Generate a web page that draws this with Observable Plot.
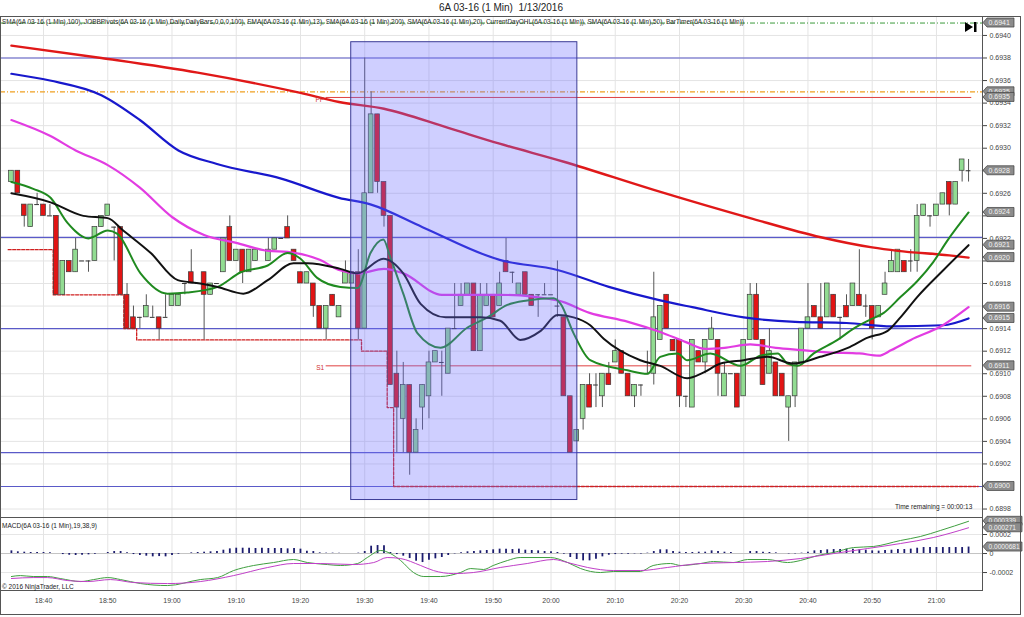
<!DOCTYPE html>
<html><head><meta charset="utf-8">
<script src="https://cdn.jsdelivr.net/npm/d3@7"></script>
<script src="https://cdn.jsdelivr.net/npm/@observablehq/plot@0.6"></script>
<style>
body{margin:0;background:#fff;font-family:"Liberation Sans",Arial,sans-serif;}
#wrap{position:relative;width:1024px;height:617px;overflow:hidden;background:#fff;}
#title{position:absolute;top:2px;left:439px;font-size:10px;line-height:12px;color:#222;white-space:pre;}
#border{position:absolute;top:16px;left:0;width:1021px;height:599px;border:1px solid #555;box-sizing:border-box;pointer-events:none;}
#main{position:absolute;top:16px;left:0;}
#macd{position:absolute;top:517px;left:0;}
.lbl{position:absolute;font-size:6.5px;color:#222;white-space:pre;}
#icon{position:absolute;left:964px;top:21px;}
</style></head><body>
<div id="wrap">
<div id="title">6A 03-16 (1 Min)  1/13/2016</div>
<div id="main"></div>
<div id="macd"></div>
<div id="border"></div>
<div class="lbl" style="left:2px;top:522px">MACD(6A 03-16 (1 Min),19,38,9)</div>
<div class="lbl" style="left:2px;top:583px">© 2016 NinjaTrader, LLC</div>
<div class="lbl" style="left:895px;top:503px">Time remaining = 00:00:13</div>
<svg id="icon" width="14" height="12"><polygon points="1,1 9,6 1,11" fill="#000"/><rect x="10" y="1" width="2.5" height="10" fill="#000"/></svg>
</div>
<script>
// ---------- DATA ----------
const timeTicks = [5,15,25,35,45,55,65,75,84,94,104,114,124,134,144];
const timeLabels = ["18:40","18:50","19:00","19:10","19:20","19:30","19:40","19:50","20:00","20:10","20:20","20:30","20:40","20:50","21:00"];
const priceTicks = [0.6898,0.6900,0.6902,0.6904,0.6906,0.6908,0.6910,0.6912,0.6914,0.6916,0.6918,0.6920,0.6922,0.6924,0.6926,0.6928,0.6930,0.6932,0.6934,0.6936,0.6938,0.6940];

const opens = [
.6927,.6928,.6925,.6923,.6925,.6925,.6924,.6924,.6917,.6920,
.6919,.6920,.6920,.6920,.6923,.6924,.6923,.6923,.6917,.6915,
.6915,.6915,.6915,.6915,.6915,.6916,.6916,.6918,.6919,.6918,
.6919,.6917,.6918,.6919,.6923,.6920,.6921,.6919,.6920,.6921,
.6920,.6921,.6922,.6923,.6921,.6919,.6918,.6918,.6916,.6914,
.6917,.6915,.6918,.6918,.6919,.6914,.6926,.6933,.6927,.6924,
.6910,.6906,.6909,.6903,.6907,.6908,.6911,.6911,.6910,.6914,
.6916,.6917,.6918,.6912,.6916,.6917,.6916,.6920,.6919,.6917,
.6919,.6917,.6917,.6917,.6917,.6916,.6915,.6908,.6904,.6906,
.6909,.6909,.6908,.6910,.6911,.6912,.6910,.6908,.6909,.6910,
.6910,.6913,.6917,.6913,.6913,.6908,.6907,.6912,.6911,.6913,
.6913,.6908,.6910,.6910,.6908,.6913,.6917,.6913,.6910,.6911,
.6910,.6907,.6908,.6911,.6914,.6916,.6915,.6915,.6917,.6915,
.6916,.6916,.6917,.6916,.6916,.6915,.6917,.6919,.6919,.6920,
.6920,.6920,.6924,.6924,.6924,.6925,.6927,.6925,.6928,.6928];
const highs = [
.6928,.6928,.6925,.6925,.6926,.6925,.6925,.6924,.6920,.6920,
.6922,.6920,.6920,.6923,.6924,.6925,.6923,.6923,.6918,.6916,
.6915,.6917,.6916,.6915,.6917,.6917,.6917,.6918,.6921,.6918,
.6919,.6918,.6918,.6922,.6924,.6921,.6921,.6921,.6921,.6921,
.6922,.6922,.6922,.6924,.6921,.6919,.6919,.6918,.6916,.6916,
.6917,.6916,.6920,.6919,.6921,.6938,.6935,.6933,.6927,.6924,
.6912,.6911,.6909,.6906,.6909,.6912,.6912,.6912,.6914,.6918,
.6918,.6918,.6918,.6918,.6918,.6917,.6919,.6922,.6919,.6918,
.6919,.6917,.6917,.6918,.6917,.6920,.6915,.6908,.6905,.6909,
.6910,.6910,.6910,.6911,.6913,.6912,.6910,.6909,.6909,.6912,
.6919,.6916,.6917,.6913,.6913,.6908,.6913,.6912,.6913,.6915,
.6913,.6911,.6910,.6910,.6913,.6918,.6918,.6913,.6914,.6911,
.6910,.6908,.6911,.6914,.6918,.6916,.6918,.6918,.6917,.6915,
.6917,.6918,.6921,.6917,.6916,.6916,.6919,.6921,.6921,.6920,
.6921,.6925,.6925,.6924,.6925,.6926,.6927,.6927,.6929,.6929];
const lows = [
.6927,.6926,.6923,.6923,.6925,.6924,.6924,.6917,.6917,.6919,
.6919,.6920,.6919,.6920,.6923,.6924,.6920,.6917,.6914,.6914,
.6914,.6915,.6915,.6913,.6915,.6916,.6916,.6917,.6918,.6918,
.6913,.6917,.6918,.6919,.6920,.6920,.6918,.6919,.6920,.6921,
.6920,.6921,.6922,.6922,.6920,.6918,.6918,.6915,.6914,.6913,
.6916,.6915,.6918,.6918,.6913,.6914,.6926,.6926,.6923,.6909,
.6903,.6903,.6901,.6903,.6905,.6906,.6911,.6908,.6910,.6914,
.6916,.6917,.6912,.6912,.6916,.6915,.6916,.6919,.6918,.6917,
.6917,.6916,.6915,.6917,.6917,.6915,.6908,.6903,.6904,.6905,
.6907,.6907,.6907,.6909,.6911,.6910,.6908,.6907,.6908,.6910,
.6909,.6913,.6914,.6912,.6907,.6907,.6907,.6911,.6910,.6913,
.6908,.6908,.6910,.6907,.6908,.6913,.6913,.6909,.6910,.6908,
.6908,.6904,.6907,.6911,.6914,.6915,.6914,.6915,.6915,.6913,
.6915,.6916,.6916,.6915,.6913,.6915,.6917,.6919,.6919,.6919,
.6919,.6919,.6924,.6923,.6924,.6925,.6924,.6925,.6927,.6927];
const closes = [
.6928,.6926,.6924,.6925,.6925,.6924,.6924,.6917,.6920,.6919,
.6921,.6920,.6920,.6923,.6924,.6925,.6923,.6917,.6914,.6914,
.6915,.6916,.6915,.6914,.6915,.6917,.6917,.6918,.6918,.6918,
.6917,.6918,.6918,.6922,.6920,.6921,.6919,.6921,.6921,.6921,
.6921,.6922,.6922,.6922,.6920,.6918,.6919,.6916,.6914,.6916,
.6916,.6916,.6919,.6919,.6914,.6926,.6933,.6927,.6924,.6909,
.6907,.6909,.6903,.6905,.6909,.6911,.6912,.6911,.6914,.6914,
.6917,.6918,.6912,.6917,.6917,.6915,.6918,.6919,.6919,.6918,
.6917,.6916,.6917,.6917,.6917,.6916,.6908,.6903,.6905,.6909,
.6907,.6909,.6910,.6909,.6912,.6910,.6908,.6909,.6909,.6910,
.6915,.6916,.6914,.6912,.6908,.6908,.6913,.6911,.6913,.6914,
.6910,.6910,.6910,.6907,.6913,.6917,.6913,.6909,.6912,.6908,
.6908,.6908,.6911,.6914,.6915,.6915,.6914,.6918,.6915,.6915,
.6915,.6918,.6916,.6916,.6914,.6916,.6918,.6920,.6921,.6919,
.6920,.6924,.6925,.6924,.6925,.6926,.6925,.6927,.6929,.6928];

const sma200Idx = [0,14,29,45,51,58,68,76,86,100,115,126,134,138,146,149];
const sma200Val = [0.69391,0.69380,0.69367,0.69349,0.69341,0.69335,0.69318,0.69304,0.69288,0.69263,0.69238,0.69221,0.69212,0.69209,0.69205,0.69203];
const sma100Idx = [0,6,14,20,26,32,42,51,56,64,76,85,93,101,106,114,122,130,137,145,149];
const sma100Val = [0.69366,0.69360,0.69347,0.69325,0.69298,0.69286,0.69273,0.69256,0.69250,0.69230,0.69201,0.69192,0.69177,0.69165,0.69159,0.69150,0.69146,0.69145,0.69142,0.69143,0.69149];
const sma50Idx = [0,6,10,15,20,25,30,35,40,43,48,51,54,58,61,67,76,85,90,96,101,105,108,111,115,119,123,127,132,135,137,140,145,149];
const sma50Val = [0.69325,0.69311,0.69298,0.69285,0.69265,0.69239,0.69223,0.69216,0.69209,0.69208,0.69201,0.69192,0.69189,0.69193,0.69189,0.69170,0.69170,0.69165,0.69154,0.69146,0.69137,0.69128,0.69122,0.69123,0.69126,0.69123,0.69121,0.69119,0.69118,0.69116,0.69121,0.69130,0.69143,0.69159];
const ema13Idx = [0,3.4,6.1,8.7,12,15,16.5,20.1,24.3,27.4,32.1,35.7,39.9,43,45,47.6,51.2,53.9,55.9,57.9,59,61,63.2,66.8,71,74.1,77.2,80.3,84.4,85.5,87.5,90.1,95.9,99,101,103.7,105.2,108.8,113.5,116.6,119.3,120.8,122.4,124.9,128.6,131.1,133.7,135.8,138.4,141,143.5,145.7,149];
const ema13Val = [0.69270,0.69264,0.69256,0.69234,0.69220,0.69227,0.69224,0.69189,0.69171,0.69172,0.69177,0.69190,0.69196,0.69207,0.69202,0.69185,0.69177,0.69176,0.69207,0.69219,0.69203,0.69171,0.69136,0.69123,0.69141,0.69150,0.69161,0.69165,0.69167,0.69162,0.69136,0.69112,0.69103,0.69100,0.69115,0.69118,0.69112,0.69118,0.69107,0.69116,0.69118,0.69109,0.69107,0.69118,0.69130,0.69140,0.69148,0.69154,0.69168,0.69182,0.69199,0.69218,0.69243];
const sma20Idx = [0,6.1,11.2,15,17.4,21.7,25.9,29.4,32.1,36.1,39.9,43.9,46.1,51.2,53.9,57.9,61,63.7,67.6,73,76.1,79.2,82.4,85,87.5,90.1,92.2,97.9,101,105.2,107.7,110.4,114,117.7,121.7,125.9,130.2,133.3,136.4,138.4,141,145.1,149];
const sma20Val = [0.69260,0.69252,0.69240,0.69238,0.69227,0.69207,0.69183,0.69180,0.69177,0.69171,0.69183,0.69198,0.69198,0.69193,0.69189,0.69202,0.69189,0.69162,0.69150,0.69150,0.69147,0.69130,0.69138,0.69152,0.69150,0.69143,0.69131,0.69112,0.69107,0.69096,0.69101,0.69109,0.69112,0.69115,0.69109,0.69115,0.69123,0.69132,0.69138,0.69150,0.69168,0.69192,0.69214];

// Current-day low (step line) and levels
const dayLowIdx = [-0.5,6.5,17.5,19.5,54.5,58.5,59.5,150.5];
const dayLowVal = [0.6921,0.6917,0.6914,0.6913,0.6912,0.6907,0.6900,0.6900];
const dayHigh = 0.69411;
const dayOpen = 0.6935;
const pivotBlue = [0.6938,0.69221,0.6914,0.6903,0.6900];
const pivotRed = [0.69345,0.69107];
const pivotRedLabels = ["PP","S1"];
const pivotRedStart = 49;
const drawRect = [{i1:52.9,i2:88.1,p1:0.69394,p2:0.68988}];

// MACD panel
const histVal = [28e-6,18e-6,14e-6,11e-6,11e-6,11e-6,7e-6,0,-11e-6,-18e-6,
-21e-6,-18e-6,-14e-6,-7e-6,0,11e-6,21e-6,21e-6,7e-6,-11e-6,
-21e-6,-28e-6,-35e-6,-32e-6,-35e-6,-21e-6,-7e-6,0,7e-6,11e-6,
14e-6,18e-6,21e-6,35e-6,49e-6,56e-6,56e-6,56e-6,53e-6,56e-6,
53e-6,53e-6,53e-6,49e-6,53e-6,46e-6,25e-6,21e-6,7e-6,4e-6,
4e-6,4e-6,0,0,4e-6,21e-6,77e-6,84e-6,81e-6,11e-6,
-11e-6,-28e-6,-53e-6,-81e-6,-95e-6,-70e-6,-56e-6,-42e-6,-21e-6,-4e-6,
7e-6,18e-6,21e-6,28e-6,32e-6,39e-6,46e-6,
46e-6,42e-6,46e-6,35e-6,32e-6,28e-6,21e-6,18e-6,11e-6,-7e-6,
-42e-6,-63e-6,-77e-6,-77e-6,-60e-6,-35e-6,-18e-6,-11e-6,-7e-6,-7e-6,
-4e-6,-4e-6,4e-6,21e-6,39e-6,39e-6,21e-6,14e-6,11e-6,11e-6,
14e-6,14e-6,28e-6,21e-6,14e-6,11e-6,0,0,21e-6,21e-6,
14e-6,11e-6,7e-6,0,-4e-6,-4e-6,4e-6,14e-6,28e-6,32e-6,
39e-6,42e-6,42e-6,46e-6,46e-6,39e-6,35e-6,28e-6,25e-6,32e-6,
35e-6,42e-6,42e-6,46e-6,56e-6,63e-6,63e-6,63e-6,63e-6,63e-6,
63e-6,63e-6,68e-6];
const macdIdx = [0,1.4,3.4,5.6,7.6,10.8,12.8,15,17,20.1,24.3,29.4,32.1,34.6,37.7,40.8,43.9,46.1,49.2,51.2,53.9,55.4,57.5,59,60.6,62.6,64.2,66.8,69.9,71.5,73.5,75,77.2,79.2,83.9,86.6,88.6,91.7,93.7,97.9,99.9,102.6,104.2,107.3,109.3,112.4,114.6,117.7,120.8,122.8,125.5,128,131.1,134.2,138.4,141.5,144.6,149];
const macdVal = [-242e-6,-232e-6,-242e-6,-242e-6,-263e-6,-295e-6,-274e-6,-253e-6,-274e-6,-316e-6,-337e-6,-274e-6,-253e-6,-179e-6,-126e-6,-95e-6,-63e-6,-95e-6,-116e-6,-126e-6,-105e-6,-42e-6,32e-6,0,-74e-6,-200e-6,-242e-6,-242e-6,-200e-6,-158e-6,-168e-6,-126e-6,-74e-6,-42e-6,-42e-6,-95e-6,-158e-6,-200e-6,-189e-6,-189e-6,-126e-6,-105e-6,-126e-6,-105e-6,-84e-6,-95e-6,-63e-6,-63e-6,-95e-6,-74e-6,-21e-6,11e-6,63e-6,74e-6,137e-6,179e-6,242e-6,339e-6];
const signalIdx = [0,3.4,5.6,8.7,11.8,15.4,19,24.3,29.4,34.6,39.9,43.9,48.1,53.3,56.4,58.5,60.6,63.7,65.7,68.8,71.9,76.1,80.3,84.4,86.6,89.7,93.7,97.9,102.1,107.3,112.4,117.7,122.8,128,133.3,138.4,143.5,149];
const signalVal = [-263e-6,-253e-6,-253e-6,-284e-6,-295e-6,-274e-6,-305e-6,-316e-6,-295e-6,-232e-6,-147e-6,-105e-6,-105e-6,-116e-6,-95e-6,-42e-6,-53e-6,-126e-6,-179e-6,-211e-6,-200e-6,-147e-6,-105e-6,-63e-6,-95e-6,-147e-6,-179e-6,-179e-6,-147e-6,-105e-6,-95e-6,-84e-6,-53e-6,0,53e-6,105e-6,168e-6,271e-6];

const mainTags = [
 {v:0.69411,t:"0.6941"},{v:0.6935,t:"0.6935"},{v:0.69345,t:"0.6935"},{v:0.6928,t:"0.6928"},
 {v:0.69243,t:"0.6924"},{v:0.69214,t:"0.6921"},{v:0.69203,t:"0.6920"},{v:0.69159,t:"0.6916"},
 {v:0.69149,t:"0.6915"},{v:0.69107,t:"0.6911"},{v:0.6900,t:"0.6900"}];
const macdTags = [{v:339e-6,t:"0.000339"},{v:271e-6,t:"0.000271"},{v:68.1e-6,t:"0.0000681"}];

const legendText = "SMA(6A 03-16 (1 Min),100), JOBBPivots(6A 03-16 (1 Min),Daily,DailyBars,0,0,0,100), EMA(6A 03-16 (1 Min),13), SMA(6A 03-16 (1 Min),200), SMA(6A 03-16 (1 Min),20), CurrentDayOHL(6A 03-16 (1 Min)), SMA(6A 03-16 (1 Min),50), BarTimer(6A 03-16 (1 Min))";

// ---------- BUILD ----------
const candles = opens.map((o,i)=>({i, o, h:highs[i], l:lows[i], c:closes[i]}));
const pts = (idx, val) => idx.map((i,k)=>({i, v:val[k]}));
const xDomain = [-1.697, 151.17];
const font = {fontFamily:"Liberation Sans, Arial, sans-serif", fontSize:"7px", color:"#444", background:"transparent", overflow:"visible"};
const UP = "#92dc92", DOWN = "#e21414";
const cW = 0.37;
const covered = d => mainTags.some(t => Math.abs(t.v - d) < 0.00004);

const main = Plot.plot({
  width:1024, height:501, marginLeft:0, marginRight:42, marginTop:0, marginBottom:0,
  style: font,
  x:{domain:xDomain, axis:null},
  y:{domain:[0.689725,0.694168], axis:"right", ticks:priceTicks, tickFormat:d=>covered(d)?"":d.toFixed(4), tickSize:4, tickPadding:3, label:null},
  marks:[
    Plot.ruleY(priceTicks, {stroke:"#e4e4e4", strokeWidth:1}),
    Plot.ruleX(timeTicks, {stroke:"#e4e4e4", strokeWidth:1}),
    Plot.ruleY(pivotBlue, {stroke:"#5a5ac8", strokeWidth:1.2}),
    Plot.ruleY([dayHigh], {stroke:"#3a9a3a", strokeWidth:1, strokeDasharray:"5,2,1,2"}),
    Plot.ruleY([dayOpen], {stroke:"#f0a020", strokeWidth:1.2, strokeDasharray:"5,2,1,2"}),
    Plot.ruleY(pivotRed, {y:d=>d, x1:pivotRedStart, x2:149.5, stroke:"#e04040", strokeWidth:1}),
    Plot.line(pts(dayLowIdx, dayLowVal), {x:"i", y:"v", curve:"step-after", stroke:"#d02020", strokeWidth:1.3, strokeDasharray:"3,1.5"}),
    Plot.ruleX(candles, {x:"i", y1:"l", y2:"h", stroke:"#555", strokeWidth:1}),
    Plot.rect(candles.filter(d=>d.o!==d.c), {x1:d=>d.i-cW, x2:d=>d.i+cW, y1:"o", y2:"c", fill:d=>d.c>d.o?UP:DOWN, stroke:"#3a3a3a", strokeWidth:0.7}),
    Plot.ruleY(candles.filter(d=>d.o===d.c), {y:"o", x1:d=>d.i-cW, x2:d=>d.i+cW, stroke:"#333", strokeWidth:1}),
    Plot.line(pts(sma200Idx, sma200Val), {x:"i", y:"v", stroke:"#e01818", strokeWidth:2.4, curve:"monotone-x"}),
    Plot.line(pts(sma100Idx, sma100Val), {x:"i", y:"v", stroke:"#1818cc", strokeWidth:2.2, curve:"monotone-x"}),
    Plot.line(pts(sma50Idx, sma50Val), {x:"i", y:"v", stroke:"#e23ce2", strokeWidth:2.2, curve:"monotone-x"}),
    Plot.line(pts(ema13Idx, ema13Val), {x:"i", y:"v", stroke:"#1f8a1f", strokeWidth:2, curve:"monotone-x"}),
    Plot.line(pts(sma20Idx, sma20Val), {x:"i", y:"v", stroke:"#111", strokeWidth:2, curve:"monotone-x"}),
    Plot.text(pivotRed, {y:d=>d, x:pivotRedStart, text:(d,k)=>pivotRedLabels[k], textAnchor:"end", dx:-2, dy:2, fill:"#d03030", fontSize:6.5}),
    Plot.rect(drawRect, {x1:"i1", x2:"i2", y1:"p1", y2:"p2", fill:"#6c6cff", fillOpacity:0.33, stroke:"#3c3c96", strokeWidth:1}),
    Plot.frame({stroke:"#555"})
  ]
});
document.getElementById("main").appendChild(main);

const macd = Plot.plot({
  width:1024, height:100, marginLeft:0, marginRight:42, marginTop:0, marginBottom:27,
  style: font,
  x:{domain:xDomain, axis:"bottom", ticks:timeTicks, tickFormat:d=>timeLabels[timeTicks.indexOf(d)], tickSize:0, tickPadding:8, label:null},
  y:{domain:[-0.000389,0.000379], axis:"right", ticks:[-0.0002,0,0.0002], tickFormat:d=>d===0?"0":(d<0?"-":"")+Math.abs(d).toFixed(4), tickSize:4, tickPadding:3, label:null},
  marks:[
    Plot.ruleY([-0.0002,0.0002], {stroke:"#e6e6e6"}),
    Plot.ruleX(timeTicks, {stroke:"#e4e4e4"}),
    Plot.ruleY([0], {stroke:"#c4c4c4"}),
    Plot.ruleX(histVal.map((v,i)=>({i,v})), {x:"i", y1:0, y2:"v", stroke:"#1c1c6e", strokeWidth:1.8}),
    Plot.line(pts(macdIdx, macdVal), {x:"i", y:"v", stroke:"#3f9f3f", strokeWidth:1, curve:"monotone-x"}),
    Plot.line(pts(signalIdx, signalVal), {x:"i", y:"v", stroke:"#c040c8", strokeWidth:1, curve:"monotone-x"}),
    Plot.frame({stroke:"#555"})
  ]
});
document.getElementById("macd").appendChild(macd);

function addTags(chart, tags, w, fs) {
  const y = chart.scale("y");
  const g = d3.select(chart).append("g").attr("text-anchor","start");
  for (const t of tags) {
    const yy = y.apply(t.v);
    g.append("path")
      .attr("d", `M983,${yy} L987,${yy-4.5} L${987+w},${yy-4.5} L${987+w},${yy+4.5} L987,${yy+4.5} Z`)
      .attr("fill","#8c8c8c").attr("stroke","#3c3c3c").attr("stroke-width",0.7);
    g.append("text").attr("x",988.5).attr("y",yy+2.5).attr("fill","#f2f2f2").attr("text-anchor","start")
      .attr("font-size",fs).attr("font-family","Liberation Sans, Arial").text(t.t);
  }
}
addTags(main, mainTags, 27, 7);
addTags(macd, macdTags, 35, 6.6);

d3.select(main).append("text").attr("x",2).attr("y",7.5).attr("font-size",6.3).attr("text-anchor","start")
  .attr("font-family","Liberation Sans, Arial").attr("fill","#2a2a2a")
  .attr("textLength",742).attr("lengthAdjust","spacingAndGlyphs").text(legendText);
</script>
</body></html>
